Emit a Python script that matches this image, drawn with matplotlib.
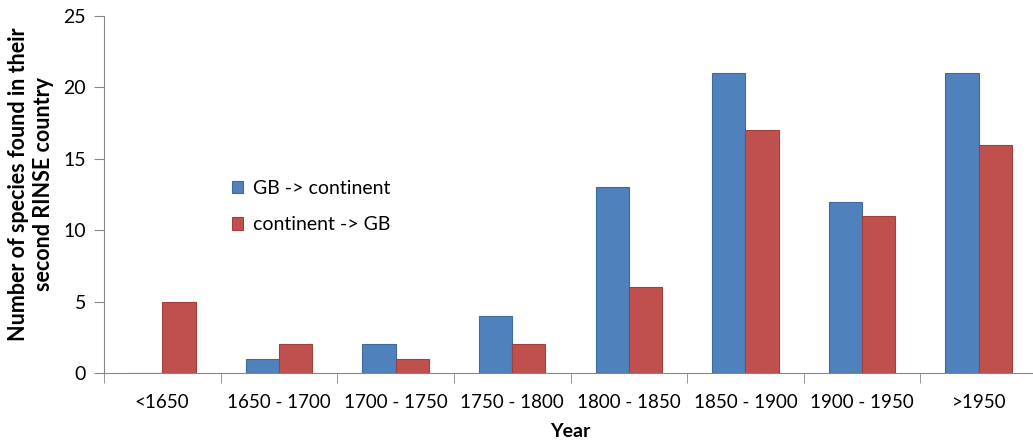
import matplotlib.pyplot as plt
import numpy as np

# Year classes and species counts
periods = ['<1650', '1650 - 1700', '1700 - 1750', '1750 - 1800',
           '1800 - 1850', '1850 - 1900', '1900 - 1950', '>1950']
gb_to_continent = [0, 1, 2, 4, 13, 21, 12, 21]
continent_to_gb = [5, 2, 1, 2, 6, 17, 11, 16]

plt.rcParams['font.family'] = ['Lato', 'DejaVu Sans']

fig = plt.figure(figsize=(10.33, 4.43), dpi=100)
ax = fig.add_axes([104 / 1033, 70 / 443, 933 / 1033, 357 / 443])

x = np.arange(len(periods))
w = 0.285
ax.bar(x - w / 2, gb_to_continent, w, color='#4F81BD', edgecolor='#3f6a9c',
       linewidth=0.8, label='GB -> continent')
ax.bar(x + w / 2, continent_to_gb, w, color='#C0504D', edgecolor='#9e403e',
       linewidth=0.8, label='continent -> GB')

ax.set_xlim(-0.5, len(periods) - 0.5)
ax.set_ylim(0, 25)
ax.set_yticks(range(0, 26, 5))
ax.set_xticks(x)
ax.set_xticklabels(periods, fontsize=13.5)
ax.set_xticks(np.arange(-0.5, len(periods), 1), minor=True)
ax.tick_params(axis='x', which='major', length=0, pad=15)
ax.tick_params(axis='x', which='minor', length=7, color='#868686')
ax.tick_params(axis='y', labelsize=14, length=7, color='#868686', pad=6)

for s in ['top', 'right']:
    ax.spines[s].set_visible(False)
for s in ['left', 'bottom']:
    ax.spines[s].set_color('#868686')

ax.set_xlabel('Year', fontsize=14, fontweight='bold', labelpad=9)
ax.set_ylabel('Number of species found in their\nsecond RINSE country',
              fontsize=15.5, fontweight='bold', linespacing=1.2)
ax.yaxis.set_label_coords(-0.054, 0.53)

ax.legend(loc='upper left', bbox_to_anchor=(0.118, 0.59), frameon=False,
          fontsize=14, handlelength=0.6, handleheight=0.6, handletextpad=0.5,
          labelspacing=1.0)

fig.savefig('out.png', dpi=100)
